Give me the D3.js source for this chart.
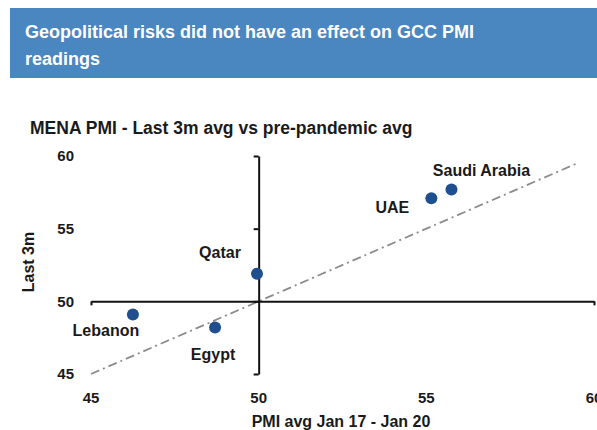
<!DOCTYPE html>
<html>
<head>
<meta charset="utf-8">
<script src="https://cdn.jsdelivr.net/npm/d3@7"></script>
<style>
  html, body { margin: 0; padding: 0; background: #ffffff; }
  svg { display: block; }
</style>
</head>
<body>
<svg id="chart" width="597" height="430"></svg>
<script>
// ---- data ----
const countries = ["Lebanon", "Egypt", "Qatar", "UAE", "Saudi Arabia"];
const preAvg    = [46.25, 48.7, 49.95, 55.15, 55.75];   // PMI avg Jan 17 - Jan 20
const last3m    = [49.1, 48.2, 51.9, 57.1, 57.7];       // Last 3m avg
const xTicks    = [45, 50, 55, 60];
const yTicks    = [45, 50, 55, 60];
const diagonal  = [45, 59.5];                            // y = x reference line

const titleLines = ["Geopolitical risks did not have an effect on GCC PMI", "readings"];
const subtitle = "MENA PMI - Last 3m avg vs pre-pandemic avg";
const xTitle = "PMI avg Jan 17 - Jan 20";
const yTitle = "Last 3m";

// label offsets (style, not data)
const labelOffset = {
  "Lebanon": [-27, 16],
  "Egypt": [-2, 27],
  "Qatar": [-37, -21],
  "UAE": [-39, 9],
  "Saudi Arabia": [30, -19]
};

const svg = d3.select("#chart");
const narrow = "'Liberation Sans Narrow', 'Arial Narrow', 'Liberation Sans', Arial, sans-serif";

// ---- header ----
svg.append("rect").attr("x", 10).attr("y", 8).attr("width", 590).attr("height", 70)
  .attr("fill", "#4a86bf");
svg.append("g").selectAll("text").data(titleLines).join("text")
  .attr("x", 25).attr("y", (d, i) => 38 + i * 27)
  .attr("fill", "#ffffff")
  .attr("font-family", "'Liberation Sans', Arial, sans-serif")
  .attr("font-weight", "bold").attr("font-size", 18)
  .text(d => d);

// subtitle
svg.append("text").attr("x", 30).attr("y", 134)
  .attr("font-family", narrow).attr("font-weight", "bold").attr("font-size", 17.5)
  .attr("fill", "#1a1a1a")
  .text(subtitle);

// ---- scales ----
const x = d3.scaleLinear().domain([45, 60]).range([91, 594]);
const y = d3.scaleLinear().domain([45, 60]).range([374, 156]);

// diagonal dash-dot line
svg.append("line")
  .attr("x1", x(diagonal[0])).attr("y1", y(diagonal[0]))
  .attr("x2", x(diagonal[1])).attr("y2", y(diagonal[1]))
  .attr("stroke", "#8c8c8c").attr("stroke-width", 1.8)
  .attr("stroke-dasharray", "9,4,2,4");

// x axis crossing at y=50
const xAxis = d3.axisBottom(x).tickValues([45, 60]).tickSize(4).tickSizeOuter(0).tickFormat("");
const gx = svg.append("g").attr("transform", `translate(0,${y(50)})`).call(xAxis);
gx.selectAll("path, line").attr("stroke", "#111").attr("stroke-width", 2);

// y axis crossing at x=50
const yAxis = d3.axisLeft(y).tickValues(yTicks).tickSize(5).tickSizeOuter(0).tickFormat("");
const gy = svg.append("g").attr("transform", `translate(${x(50)},0)`).call(yAxis);
gy.selectAll("path, line").attr("stroke", "#111").attr("stroke-width", 2);

// tick labels
svg.append("g").selectAll("text").data(yTicks).join("text")
  .attr("x", 74).attr("y", d => y(d)).attr("dy", "0.36em")
  .attr("text-anchor", "end")
  .attr("font-family", narrow).attr("font-weight", "bold").attr("font-size", 15)
  .attr("fill", "#1a1a1a").text(d => d);
svg.append("g").selectAll("text").data(xTicks).join("text")
  .attr("x", d => x(d)).attr("y", 398).attr("dy", "0.36em")
  .attr("text-anchor", "middle")
  .attr("font-family", narrow).attr("font-weight", "bold").attr("font-size", 15)
  .attr("fill", "#1a1a1a").text(d => d);

// axis titles
svg.append("text").attr("transform", `translate(34,262) rotate(-90)`)
  .attr("text-anchor", "middle")
  .attr("font-family", narrow).attr("font-weight", "bold").attr("font-size", 16)
  .attr("fill", "#1a1a1a").text(yTitle);
svg.append("text").attr("x", 341).attr("y", 427)
  .attr("text-anchor", "middle")
  .attr("font-family", narrow).attr("font-weight", "bold").attr("font-size", 16)
  .attr("fill", "#1a1a1a").text(xTitle);

// points
const pts = countries.map((c, i) => ({ name: c, px: preAvg[i], py: last3m[i] }));
svg.append("g").selectAll("circle").data(pts).join("circle")
  .attr("cx", d => x(d.px)).attr("cy", d => y(d.py)).attr("r", 6)
  .attr("fill", "#1f4f8f");

// labels
svg.append("g").selectAll("text").data(pts).join("text")
  .attr("x", d => x(d.px) + labelOffset[d.name][0])
  .attr("y", d => y(d.py) + labelOffset[d.name][1])
  .attr("dy", "0.36em").attr("text-anchor", "middle")
  .attr("font-family", narrow).attr("font-weight", "bold").attr("font-size", 16)
  .attr("fill", "#1a1a1a").text(d => d.name);
</script>
</body>
</html>
